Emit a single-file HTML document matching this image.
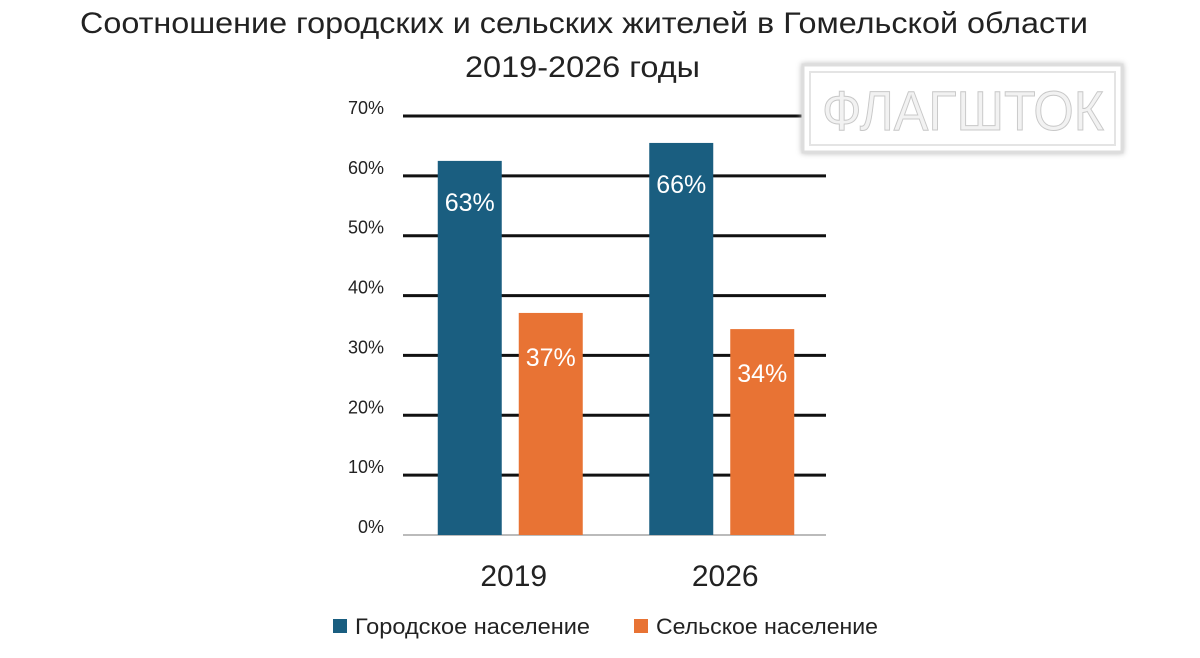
<!DOCTYPE html>
<html><head><meta charset="utf-8"><style>
body{margin:0;background:#fff;width:1200px;height:658px;overflow:hidden;font-family:"Liberation Sans","Noto Sans CJK SC",sans-serif}
svg{display:block}
</style></head><body>
<svg id="c" width="1200" height="658">
<text x="80" y="33" font-size="30" fill="#222" textLength="1008" lengthAdjust="spacingAndGlyphs">Соотношение городских и сельских жителей в Гомельской области</text>
<text x="465" y="77" font-size="30" fill="#222" textLength="235" lengthAdjust="spacingAndGlyphs">2019-2026 годы</text>
<g id="grid"></g>
<g id="bars"></g>
<g>
<rect x="803" y="65" width="319" height="87" fill="#fff" stroke="#ddd" stroke-width="3" filter="drop-shadow(0 0 3px #bbb)"/>
<rect x="810" y="72" width="305" height="73" fill="none" stroke="#e4e4e4" stroke-width="2"/>
<text x="822" y="130" font-size="56" fill="#f2f2f2" stroke="#c8c8c8" stroke-width="1" textLength="282" lengthAdjust="spacingAndGlyphs">ФЛАГШТОК</text>
</g>
<g>
<rect x="333" y="619" width="14" height="14" fill="#1a5e80"/>
<text x="355" y="634" font-size="22" fill="#222" textLength="235" lengthAdjust="spacingAndGlyphs">Городское население</text>
<rect x="634" y="619" width="14" height="14" fill="#e87334"/>
<text x="656" y="634" font-size="22" fill="#222" textLength="222" lengthAdjust="spacingAndGlyphs">Сельское население</text>
</g>
</svg>
<script>
const categories=["2019","2026"];
const urban=[62.5,65.5];
const rural=[37.1,34.4];
const urbanLabels=["63%","66%"];
const ruralLabels=["37%","34%"];
const ticks=[0,10,20,30,40,50,60,70];
const NS="http://www.w3.org/2000/svg";
const y0=535,pxPer=(535-116)/70;
const y=v=>y0-v*pxPer;
const x0=403,x1=826,catW=(x1-x0)/categories.length;
const grid=document.getElementById('grid'),bars=document.getElementById('bars');
function mk(tag,attrs,parent){const e=document.createElementNS(NS,tag);for(const k in attrs)e.setAttribute(k,attrs[k]);parent.appendChild(e);return e;}
ticks.forEach(t=>{
  const l=mk('line',{x1:x0,x2:x1,y1:y(t),y2:y(t),stroke:t===0?'#bbb':'#111','stroke-width':t===0?2:3},grid);
  
  
  const tx=mk('text',{x:384,y:y(t)-2,'text-anchor':'end','font-size':18,fill:'#222'},grid);
  tx.textContent=t+'%';
  
  
});
const bw=64;
categories.forEach((c,i)=>{
  const cx=x0+catW*i+catW/2;
  [[urban,urbanLabels,'#1a5e80',cx-bw-7,'urban',50],[rural,ruralLabels,'#e87334',cx+10,'rural',53]].forEach(([arr,lab,col,bx,nm,off])=>{
    const r=mk('rect',{x:bx,y:y(arr[i]),width:bw,height:y0-y(arr[i]),fill:col},bars);
    
    
    const t=mk('text',{x:bx+bw/2,y:y(arr[i])+off,'text-anchor':'middle','font-size':25,fill:'#fff'},bars);
    t.textContent=lab[i];
    
    
  });
  const ct=mk('text',{x:cx+5,y:586,'text-anchor':'middle','font-size':30,fill:'#222'},bars);
  ct.textContent=c;
  
  
});
</script>
</body></html>
